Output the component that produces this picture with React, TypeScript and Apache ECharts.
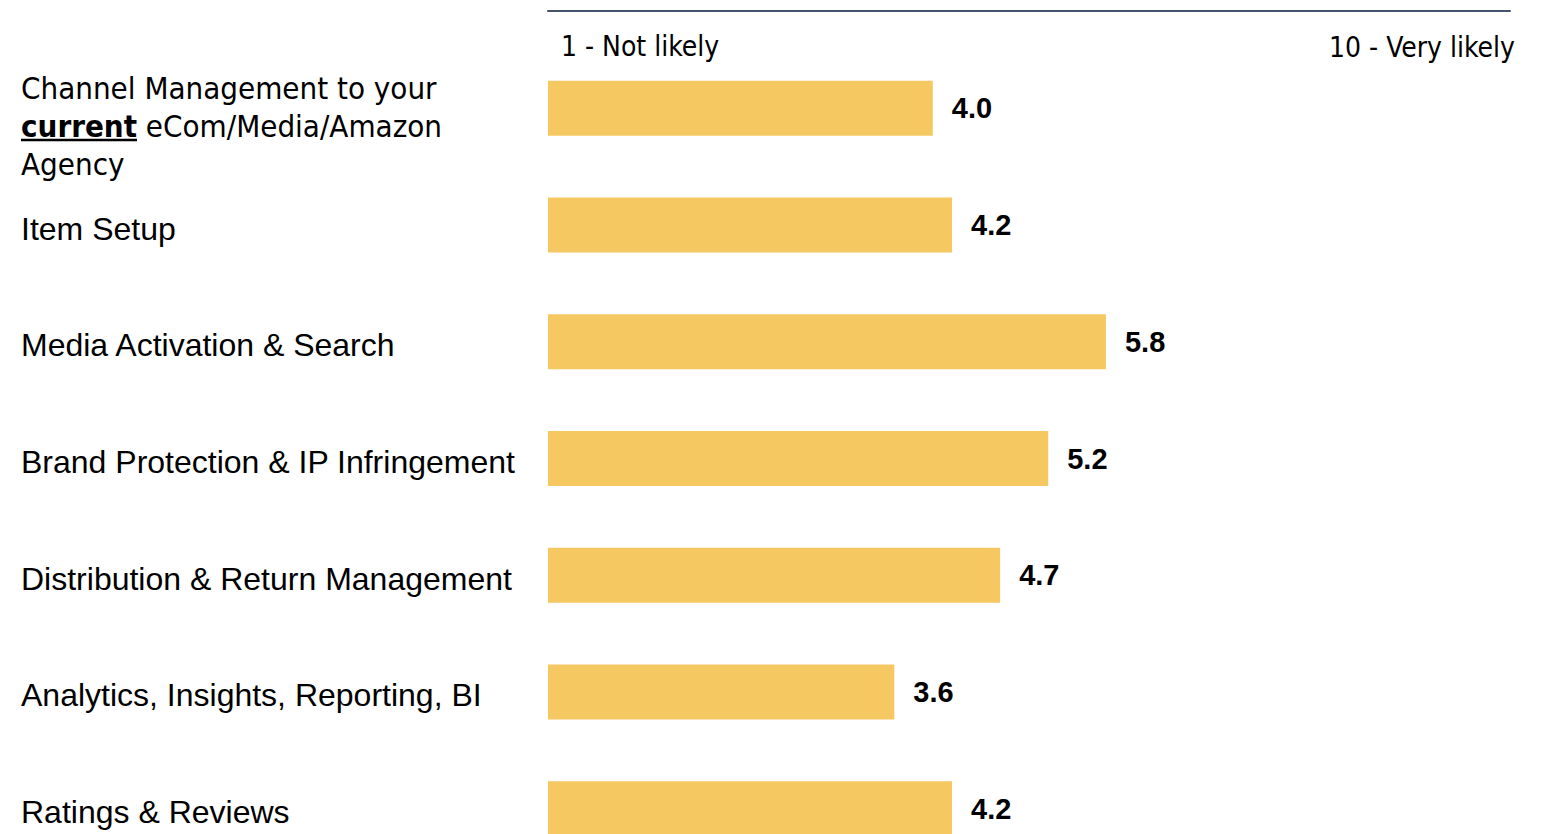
import React, { useEffect, useRef } from "react";
import * as echarts from "echarts";

const categories = [
  "Channel Management to your\n{b|current} eCom/Media/Amazon\nAgency",
  "Item Setup",
  "Media Activation & Search",
  "Brand Protection & IP Infringement",
  "Distribution & Return Management",
  "Analytics, Insights, Reporting, BI",
  "Ratings & Reviews",
];
const values = [4.0, 4.2, 5.8, 5.2, 4.7, 3.6, 4.2];
const scaleLabels = ["1 - Not likely", "10 - Very likely"];
const scaleMin = 0;
const scaleMax = 10;

export default function App() {
  const ref = useRef<HTMLDivElement>(null);
  useEffect(() => {
    if (!ref.current) return;
    const chart = echarts.init(ref.current, undefined, { renderer: "svg" });
    const font = "'Liberation Sans', Arial, sans-serif";
    const narrow = "'Liberation Sans Narrow', 'Arial Narrow', 'DejaVu Sans Condensed', sans-serif";
    chart.setOption({
      animation: false,
      backgroundColor: "#ffffff",
      grid: {
        left: 548,
        width: 962,
        top: 50,
        height: 817,
        containLabel: false,
        outerBoundsMode: "none",
      },
      xAxis: [
        { type: "value", min: scaleMin, max: scaleMax, show: false },
        {
          type: "value",
          min: scaleMin,
          max: scaleMax,
          position: "top",
          offset: 39,
          axisLine: { show: true, lineStyle: { color: "#44546A", width: 2 } },
          axisTick: { show: false },
          axisLabel: { show: false },
          splitLine: { show: false },
        },
      ],
      yAxis: {
        type: "category",
        inverse: true,
        data: categories.map((c, i) =>
          i === 0
            ? {
                value: c,
                textStyle: {
                  align: "left",
                  fontFamily: narrow,
                  fontSize: 31,
                  lineHeight: 38,
                  padding: [36, 0, 0, 0],
                },
              }
            : c
        ),
        axisLine: { show: false },
        axisTick: { show: false },
        axisLabel: {
          align: "left",
          margin: 527,
          fontFamily: font,
          fontSize: 32,
          color: "#000000",
          padding: [7, 0, 0, 0],
          rich: {
            b: {
              fontFamily: narrow,
              fontSize: 31,
              fontWeight: "bold",
              color: "#000000",
              lineHeight: 38,
            },
          },
        },
      },
      series: [
        {
          type: "bar",
          data: values,
          barWidth: 55,
          itemStyle: { color: "#F5C862" },
          label: {
            show: true,
            position: "right",
            distance: 19,
            fontFamily: font,
            fontWeight: "bold",
            fontSize: 29,
            color: "#000000",
            formatter: (p: any) => Number(p.value).toFixed(1),
          },
        },
      ],
      graphic: [
        {
          type: "text",
          left: 561,
          top: 32,
          style: { text: scaleLabels[0], font: `28px ${narrow}`, fill: "#000000" },
        },
        {
          type: "text",
          right: 27,
          top: 33,
          style: { text: scaleLabels[1], font: `28px ${narrow}`, fill: "#000000" },
        },
        {
          type: "line",
          shape: { x1: 21, y1: 140, x2: 137, y2: 140 },
          style: { stroke: "#000000", lineWidth: 2.5 },
        },
      ],
    });
    return () => chart.dispose();
  }, []);
  return (
    <div
      ref={ref}
      style={{ position: "absolute", left: 0, top: 0, width: 1542, height: 834 }}
    />
  );
}
